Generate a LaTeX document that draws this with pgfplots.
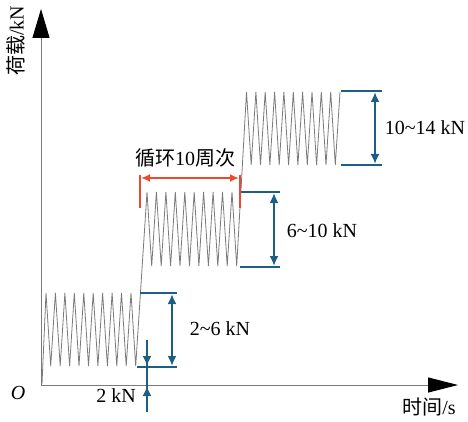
\documentclass[border=0pt]{standalone}
\usepackage{pgfplots}
\pgfplotsset{compat=1.18}
\usepackage{fontspec}
\setmainfont{Liberation Serif}
\newfontfamily\cjk{Noto Sans CJK SC}
\usetikzlibrary{arrows.meta}
\definecolor{anno}{HTML}{1B6082}
\definecolor{redanno}{HTML}{EB4A2E}
\definecolor{sig}{HTML}{7A7A7A}
\tikzset{lbl/.style={font=\fontsize{20}{24}\selectfont,inner sep=0pt}}
\begin{document}
\begin{tikzpicture}
\begin{axis}[width=468pt,height=421pt,scale only axis,
  xmin=0,xmax=468,ymin=0,ymax=421,axis lines=none,clip=false]
\draw[draw=none] (axis cs:0,0) rectangle (axis cs:468,421);
% axes
\draw[sig,line width=1pt,-{Triangle[length=29pt,width=17pt,color=black]}] (axis cs:41,36) -- (axis cs:41,412);
\draw[sig,line width=1pt,-{Triangle[length=30pt,width=15pt,color=black]}] (axis cs:41,36) -- (axis cs:458,36);
% loading signal
\addplot[sig,line width=0.8pt] coordinates {
(42,37)
(46.0,128)(50.7,55)(55.4,128)(60.2,55)(64.9,128)(69.6,55)(74.3,128)(79.0,55)(83.8,128)(88.5,55)
(93.2,128)(97.9,55)(102.6,128)(107.4,55)(112.1,128)(116.8,55)(121.5,128)(126.2,55)(131.0,128)(135.7,55)
(147.0,229)(151.7,155)(156.4,229)(161.2,155)(165.9,229)(170.6,155)(175.3,229)(180.0,155)(184.8,229)(189.5,155)
(194.2,229)(198.9,155)(203.6,229)(208.4,155)(213.1,229)(217.8,155)(222.5,229)(227.2,155)(232.0,229)(236.7,155)
(246.5,329)(251.2,256)(255.9,329)(260.5,256)(265.2,329)(269.9,256)(274.6,329)(279.2,256)(283.9,329)(288.6,256)
(293.3,329)(297.9,256)(302.6,329)(307.3,256)(312.0,329)(316.6,256)(321.3,329)(326.0,256)(330.7,329)(335.3,256)(340.0,329)
};
% block 1 annotation
\draw[anno,line width=2.2pt] (axis cs:140,128) -- (axis cs:177,128);
\draw[anno,line width=2.2pt] (axis cs:137,54) -- (axis cs:177,54);
\draw[anno,line width=2.2pt,{Latex[length=10pt,width=9pt]}-{Latex[length=10pt,width=9pt]}] (axis cs:172,127) -- (axis cs:172,55);
\node[lbl] at (axis cs:220,92) {2\textasciitilde6 kN};
% 2 kN
\draw[anno,line width=2.2pt] (axis cs:147,81) -- (axis cs:147,9);
\draw[anno,line width=2.2pt,-{Latex[length=10pt,width=9pt]}] (axis cs:147,81) -- (axis cs:147,55);
\draw[anno,line width=2.2pt,-{Latex[length=10pt,width=9pt]}] (axis cs:147,9) -- (axis cs:147,35);
\node[lbl] at (axis cs:116,25) {2 kN};
\node[lbl] at (axis cs:18,28) {\itshape O};
% block 2 annotation
\draw[anno,line width=2.2pt] (axis cs:240,229) -- (axis cs:280,229);
\draw[anno,line width=2.2pt] (axis cs:240,154) -- (axis cs:280,154);
\draw[anno,line width=2.2pt,{Latex[length=10pt,width=9pt]}-{Latex[length=10pt,width=9pt]}] (axis cs:274,228) -- (axis cs:274,155);
\node[lbl] at (axis cs:322,190) {6\textasciitilde10 kN};
% block 3 annotation
\draw[anno,line width=2.2pt] (axis cs:341,330) -- (axis cs:382,330);
\draw[anno,line width=2.2pt] (axis cs:341,256) -- (axis cs:382,256);
\draw[anno,line width=2.2pt,{Latex[length=10pt,width=9pt]}-{Latex[length=10pt,width=9pt]}] (axis cs:375,329) -- (axis cs:375,257);
\node[lbl] at (axis cs:425,293) {10\textasciitilde14 kN};
% red annotation
\draw[redanno,line width=2.6pt] (axis cs:140,246) -- (axis cs:140,213);
\draw[redanno,line width=2.6pt] (axis cs:240,246) -- (axis cs:240,213);
\draw[redanno,line width=1.8pt,{Latex[length=9pt,width=8pt]}-{Latex[length=9pt,width=8pt]}] (axis cs:141,243) -- (axis cs:239,243);
\node[lbl] at (axis cs:185,263) {{\cjk 循环}10{\cjk 周次}};
% axis labels
\node[lbl,rotate=90] at (axis cs:16,380) {{\cjk 荷载}/kN};
\node[lbl] at (axis cs:429,14) {{\cjk 时间}/s};
\end{axis}
\end{tikzpicture}
\end{document}
